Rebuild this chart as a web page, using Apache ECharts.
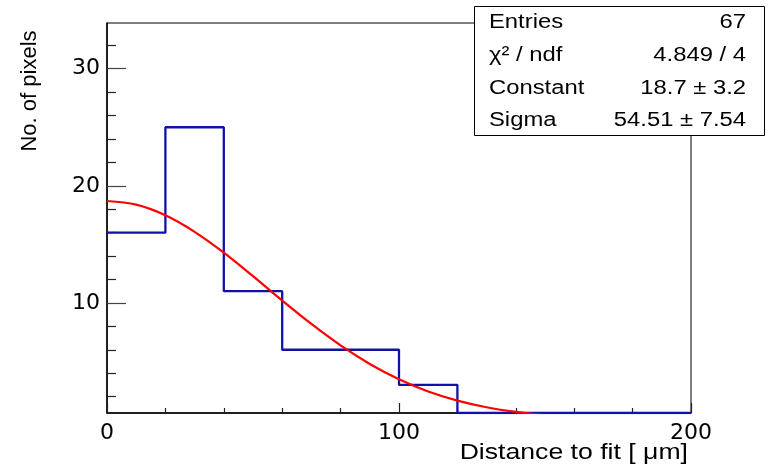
<!DOCTYPE html>
<html>
<head>
<meta charset="utf-8">
<script src="https://cdn.jsdelivr.net/npm/echarts@6/dist/echarts.min.js"></script>
<style>
  html, body { margin: 0; padding: 0; background: #fff; }
  #chart { width: 769px; height: 476px; }
</style>
</head>
<body>
<div id="chart"></div>
<script>
// Histogram: left bin edges (µm) and counts per 20 µm bin
const binLeft = [0, 20, 40, 60, 80, 100, 120, 140, 160, 180];
const binWidth = 20;
const counts = [16, 25, 11, 6, 6, 3, 0, 0, 0, 0];

// Gaussian fit curve, sampled values
const fitX = [0, 10, 20, 30, 40, 50, 60, 70, 80, 90, 100, 110, 120, 130, 140, 150, 160];
const fitY = [18.7, 18.39, 17.48, 16.07, 14.29, 12.28, 10.2, 8.2, 6.37, 4.79, 3.48, 2.44, 1.66, 1.09, 0.69, 0.42, 0.25];

// Axis ticks
const xLabelTicks = [0, 100, 200];
const yMajorTicks = [10, 20, 30];
const yMinorTicks = [2, 4, 6, 8, 12, 14, 16, 18, 22, 24, 26, 28, 32];

// Statistics box rows
const statNames = ['Entries', 'χ² / ndf', 'Constant', 'Sigma'];
const statValues = ['67', '4.849 / 4', '18.7 ± 3.2', '54.51 ± 7.54'];

const Y_MIN = 0.6, Y_MAX = 33.9;
const FONT = '"DejaVu Sans", sans-serif';
const HELV = '"Liberation Sans", Arial, sans-serif';

// Step outline of the histogram; empty bins sit on the frame bottom
const histData = binLeft.map((x, i) => [x, Math.max(counts[i], Y_MIN)]);
histData.push([binLeft[binLeft.length - 1] + binWidth, Math.max(counts[counts.length - 1], Y_MIN)]);
const fitData = fitX.map((x, i) => [x, fitY[i]]);

const chart = echarts.init(document.getElementById('chart'), null, { renderer: 'canvas' });

// Wide Helvetica-style lettering
const WIDE = 1.19;
const statRowY = [22, 55, 88, 120];
const statGraphics = [{
  type: 'rect', z: 100,
  shape: { x: 474.5, y: 6.5, width: 290, height: 129 },
  style: { fill: '#fff', stroke: '#000', lineWidth: 1 }
}];
statNames.forEach((n, i) => {
  statGraphics.push({
    type: 'text', z: 101, x: 489, y: statRowY[i], scaleX: WIDE,
    style: { text: n, font: '20px ' + HELV, fill: '#000', align: 'left', verticalAlign: 'middle' }
  });
  statGraphics.push({
    type: 'text', z: 101, x: 746, y: statRowY[i], scaleX: WIDE,
    style: { text: statValues[i], font: '20px ' + HELV, fill: '#000', align: 'right', verticalAlign: 'middle' }
  });
});

chart.setOption({
  animation: false,
  backgroundColor: '#fff',
  grid: {
    left: 107, top: 23, width: 584, height: 390,
    show: true, borderColor: '#000', borderWidth: 1, backgroundColor: 'transparent'
  },
  xAxis: {
    type: 'value', min: 0, max: 200, interval: 100,
    axisLine: { show: true, onZero: false, lineStyle: { color: '#000', width: 1.5 } },
    axisTick: { show: true, inside: true, length: 10, lineStyle: { color: '#222', width: 1.2 } },
    minorTick: { show: true, splitNumber: 5, length: 5, lineStyle: { color: '#222', width: 1.2 } },
    splitLine: { show: false },
    axisLabel: {
      show: true, customValues: xLabelTicks, margin: 9,
      color: '#000', fontFamily: FONT, fontSize: 22
    }
  },
  yAxis: [{
    type: 'value', min: Y_MIN, max: Y_MAX,
    axisLine: { show: true, onZero: false, lineStyle: { color: '#000', width: 1.5 } },
    axisTick: { show: true, inside: true, length: 19, customValues: yMajorTicks, lineStyle: { color: '#444', width: 1.2 } },
    splitLine: { show: false },
    axisLabel: {
      show: true, customValues: yMajorTicks, margin: 7,
      color: '#000', fontFamily: FONT, fontSize: 22
    }
  }, {
    type: 'value', min: Y_MIN, max: Y_MAX, position: 'left',
    axisLine: { show: false },
    axisTick: { show: true, inside: true, length: 9, customValues: yMinorTicks, lineStyle: { color: '#222', width: 1.2 } },
    splitLine: { show: false },
    axisLabel: { show: false }
  }],
  graphic: [
    {
      type: 'text', x: 688, y: 453, scaleX: 1.21,
      style: { text: 'Distance to fit [ μm]', font: '22px ' + HELV, fill: '#000', align: 'right', verticalAlign: 'middle' }
    },
    {
      type: 'text', x: 30, y: 91, rotation: Math.PI / 2,
      style: { text: 'No. of pixels', font: '22px ' + HELV, fill: '#000', align: 'center', verticalAlign: 'middle' }
    }
  ].concat(statGraphics),
  series: [{
    type: 'line', name: 'histogram', step: 'end', data: histData,
    symbol: 'none', clip: true, z: 2,
    lineStyle: { color: '#1111aa', width: 2.3 }
  }, {
    type: 'line', name: 'fit', data: fitData, smooth: 0.35,
    symbol: 'none', clip: true, z: 3,
    lineStyle: { color: '#ff0000', width: 2.2 }
  }]
});
</script>
</body>
</html>
